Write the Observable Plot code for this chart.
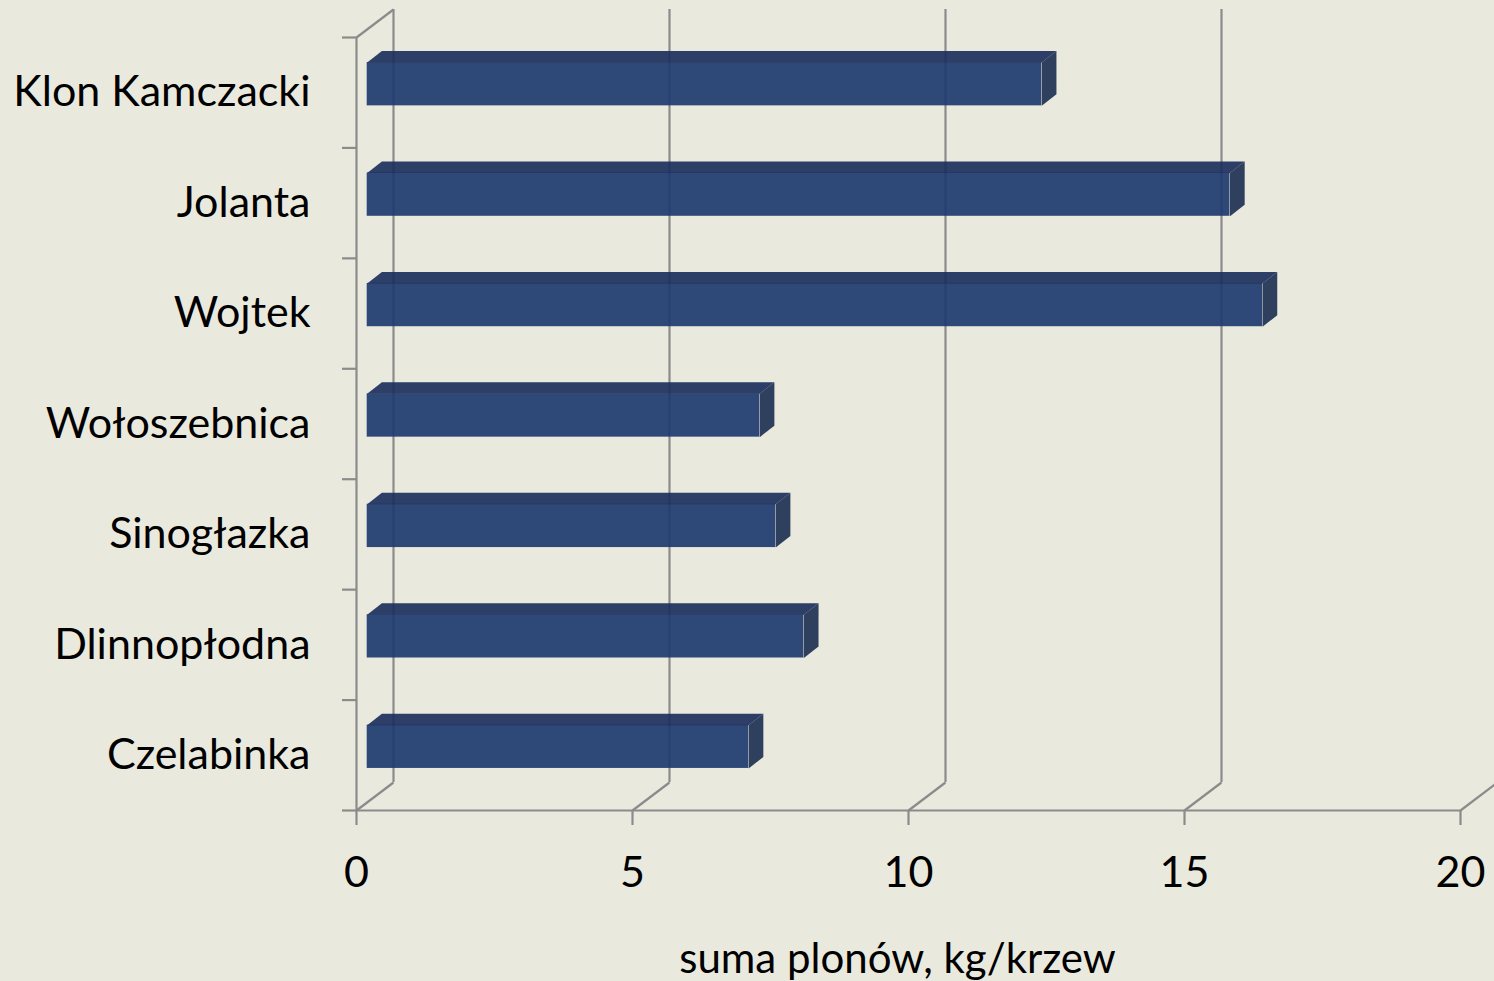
<!DOCTYPE html>
<html><head><meta charset="utf-8">
<script src="https://cdn.jsdelivr.net/npm/d3@7"></script>
<script src="https://cdn.jsdelivr.net/npm/@observablehq/plot@0.6"></script>
<style>
html,body{margin:0;padding:0;background:#EAE9DE;}
#chart svg{display:block;}
</style></head><body><div id="chart"></div>
<script>
// ---- data ----
const categories = ["Klon Kamczacki","Jolanta","Wojtek","Wołoszebnica","Sinogłazka","Dlinnopłodna","Czelabinka"];
const values = [12.22, 15.63, 16.22, 7.11, 7.40, 7.91, 6.91];
const xTicks = [0, 5, 10, 15, 20];
const xTitle = "suma plonów, kg/krzew";

// ---- layout / style ----
const W = 1494, H = 981, mL = 356, mR = 34, mT = 37, mB = 171;
const xDomain = [0, 20], n = categories.length, yDomain = [0, n];
const pxX = (W - mL - mR) / (xDomain[1] - xDomain[0]);
const pxY = (H - mT - mB) / (yDomain[1] - yDomain[0]);
const ux = p => p / pxX, uy = p => -p / pxY; // pixel offsets -> data units
const WALL = [37, -28];
const F1 = [10.7, -8.5], F2 = [25.4, -20];
const HALF = 0.196;
const GRID = "#8b8b8b", GW = 2.2;
const FRONT = "#1d3a6f", TOP = "#1c2f5c", SIDE = "#1e3053", OP = 0.92;
const LABEL_FONT = "Lato, 'Open Sans', sans-serif";

const rows = categories.map((c, k) => ({cat: c, v: values[k], yc: n - 1 - k + 0.5}));
const topPts = rows.flatMap((d, k) => [
  {id: k, x: ux(F1[0]), y: d.yc + HALF + uy(F1[1])},
  {id: k, x: d.v + ux(F1[0]), y: d.yc + HALF + uy(F1[1])},
  {id: k, x: d.v + ux(F2[0]), y: d.yc + HALF + uy(F2[1])},
  {id: k, x: ux(F2[0]), y: d.yc + HALF + uy(F2[1])}
]);
const sidePts = rows.flatMap((d, k) => [
  {id: k, x: d.v + ux(F1[0]), y: d.yc - HALF + uy(F1[1])},
  {id: k, x: d.v + ux(F1[0]), y: d.yc + HALF + uy(F1[1])},
  {id: k, x: d.v + ux(F2[0]), y: d.yc + HALF + uy(F2[1])},
  {id: k, x: d.v + ux(F2[0]), y: d.yc - HALF + uy(F2[1])}
]);

const chart = Plot.plot({
  width: W, height: H,
  marginLeft: mL, marginRight: mR, marginTop: mT, marginBottom: mB,
  style: {background: "#EAE9DE", overflow: "visible"},
  x: {domain: xDomain},
  y: {domain: yDomain},
  marks: [
    // back wall verticals
    Plot.ruleX(xTicks, {y1: 0, y2: n, dx: WALL[0], dy: WALL[1], stroke: GRID, strokeWidth: GW}),
    // floor diagonals
    Plot.link(xTicks, {x1: d => d, y1: 0, x2: d => d + ux(WALL[0]), y2: uy(WALL[1]), stroke: GRID, strokeWidth: GW}),
    // top-left diagonal
    Plot.link([0], {x1: 0, y1: n, x2: ux(WALL[0]), y2: n + uy(WALL[1]), stroke: GRID, strokeWidth: GW}),
    // front left wall line and floor line
    Plot.ruleX([0], {y1: 0, y2: n, stroke: GRID, strokeWidth: GW}),
    Plot.ruleY([0], {x1: xDomain[0], x2: xDomain[1], stroke: GRID, strokeWidth: GW}),
    // bars
    Plot.rect(rows, {x1: 0, x2: "v", y1: d => d.yc - HALF, y2: d => d.yc + HALF, dx: F1[0], dy: F1[1], fill: FRONT, fillOpacity: OP}),
    Plot.line(topPts, {x: "x", y: "y", z: "id", fill: TOP, fillOpacity: OP, stroke: "none"}),
    Plot.line(sidePts, {x: "x", y: "y", z: "id", fill: SIDE, fillOpacity: OP, stroke: "none"}),
    // y ticks
    Plot.axisY(d3.range(0, n + 1), {tickSize: 14, tickFormat: () => "", stroke: GRID, strokeWidth: GW, label: null}),
    // y labels
    Plot.axisY(rows.map(d => d.yc), {tickSize: 0, tickPadding: 46, tickFormat: y => categories[n - 1 - Math.floor(y)],
      fontSize: 43, fontFamily: LABEL_FONT, fill: "#000", label: null}),
    // x axis
    Plot.axisX(xTicks, {tickSize: 15, tickPadding: 31, fontSize: 43, fontFamily: LABEL_FONT, stroke: GRID, strokeWidth: GW, fill: "#000", label: null}),
    // x title
    Plot.text([xTitle], {frameAnchor: "bottom", dx: -11, dy: 149, fontSize: 42, fontFamily: LABEL_FONT, lineAnchor: "middle", fill: "#000"})
  ]
});
document.getElementById("chart").appendChild(chart);
</script></body></html>
